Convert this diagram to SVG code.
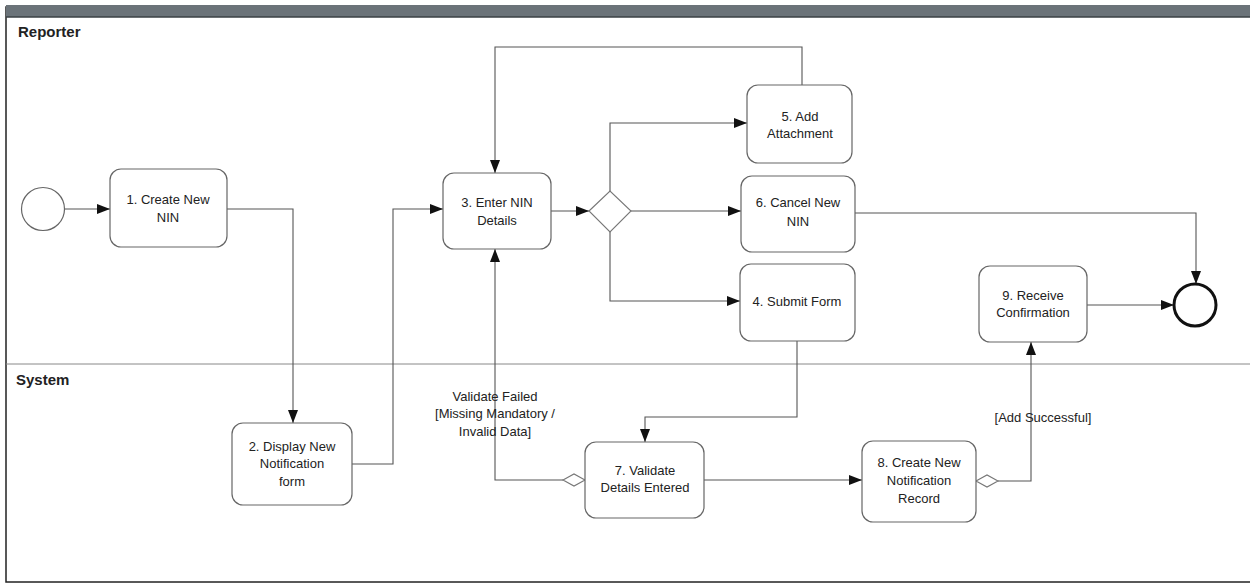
<svg xmlns="http://www.w3.org/2000/svg" width="1250" height="586" viewBox="0 0 1250 586">
<style>
.node rect{fill:#fff;stroke:#666;stroke-width:1.2}
.node text,.lbl{font-family:"Liberation Sans",Arial,sans-serif;font-size:13px;fill:#222;text-anchor:middle}
.lane{font-family:"Liberation Sans",Arial,sans-serif;font-size:15px;font-weight:bold;fill:#222}
.conn path{fill:none;stroke:#555;stroke-width:1.1}
.gw{fill:#fff;stroke:#777;stroke-width:1.1}
</style>
<defs>
<marker id="ah" viewBox="0 0 13 10" refX="13" refY="5" markerWidth="13" markerHeight="10" markerUnits="userSpaceOnUse" orient="auto">
<path d="M0,0 L13,5 L0,10 z" fill="#111"/>
</marker>
</defs>
<rect width="1250" height="586" fill="#fff"/>
<g id="pool">
<rect x="6" y="7" width="1250" height="575" fill="#fff" stroke="#222" stroke-width="1.5"/>
<rect x="6" y="5" width="1250" height="12" fill="#6b7379"/>
<line x1="6" y1="17" x2="1250" y2="17" stroke="#3a4044" stroke-width="1.5"/>
<line x1="6" y1="364" x2="1250" y2="364" stroke="#888" stroke-width="1"/>
<text class="lane" x="18" y="37">Reporter</text>
<text class="lane" x="16" y="385">System</text>
</g>
<g class="conn" id="connectors">
<path d="M65,209 H110" marker-end="url(#ah)"/>
<path d="M227,209 H293 V423" marker-end="url(#ah)"/>
<path d="M352,464 H393 V209 H443" marker-end="url(#ah)"/>
<path d="M551,211 H589" marker-end="url(#ah)"/>
<path d="M610,191 V123 H747" marker-end="url(#ah)"/>
<path d="M802,85 V47 H495 V173" marker-end="url(#ah)"/>
<path d="M631,211 H741" marker-end="url(#ah)"/>
<path d="M855,213 H1196 V284" marker-end="url(#ah)"/>
<path d="M610,232 V301 H740" marker-end="url(#ah)"/>
<path d="M797,341 V417 H645 V442" marker-end="url(#ah)"/>
<path d="M563,480 H495 V249" marker-end="url(#ah)"/>
<path d="M704,480 H862" marker-end="url(#ah)"/>
<path d="M998,481 H1031 V342" marker-end="url(#ah)"/>
<path d="M1087,305 H1174" marker-end="url(#ah)"/>
<polygon class="gw" points="563,480 574,474 585,480 574,486"/>
<polygon class="gw" points="976,481 987,475 998,481 987,487"/>
<text class="lbl" x="495" y="401">Validate Failed</text>
<text class="lbl" x="495" y="418">[Missing Mandatory /</text>
<text class="lbl" x="495" y="436">Invalid Data]</text>
<text class="lbl" x="1043" y="422">[Add Successful]</text>
</g>
<g id="start"><circle cx="43" cy="209" r="21.5" fill="#fff" stroke="#666" stroke-width="1.2"/></g>
<g id="end"><circle cx="1195" cy="305" r="21" fill="#fff" stroke="#111" stroke-width="3"/></g>
<g id="gateway"><polygon class="gw" points="589,211 610,191 631,211 610,232"/></g>
<g class="node" id="n1"><rect x="110" y="169" width="117" height="78" rx="11"/><text x="168" y="204">1. Create New</text><text x="168" y="222">NIN</text></g>
<g class="node" id="n2"><rect x="232" y="423" width="120" height="82" rx="11"/><text x="292" y="451">2. Display New</text><text x="292" y="468">Notification</text><text x="292" y="486">form</text></g>
<g class="node" id="n3"><rect x="443" y="173" width="108" height="76" rx="11"/><text x="497" y="207">3. Enter NIN</text><text x="497" y="225">Details</text></g>
<g class="node" id="n5"><rect x="747" y="85" width="105" height="78" rx="11"/><text x="800" y="121">5. Add</text><text x="800" y="138">Attachment</text></g>
<g class="node" id="n6"><rect x="741" y="176" width="114" height="76" rx="11"/><text x="798" y="207">6. Cancel New</text><text x="798" y="226">NIN</text></g>
<g class="node" id="n4"><rect x="740" y="264" width="115" height="77" rx="11"/><text x="797" y="306">4. Submit Form</text></g>
<g class="node" id="n7"><rect x="585" y="442" width="119" height="76" rx="11"/><text x="645" y="475">7. Validate</text><text x="645" y="492">Details Entered</text></g>
<g class="node" id="n8"><rect x="862" y="441" width="114" height="81" rx="11"/><text x="919" y="467">8. Create New</text><text x="919" y="485">Notification</text><text x="919" y="503">Record</text></g>
<g class="node" id="n9"><rect x="979" y="266" width="108" height="76" rx="11"/><text x="1033" y="300">9. Receive</text><text x="1033" y="317">Confirmation</text></g>
</svg>
